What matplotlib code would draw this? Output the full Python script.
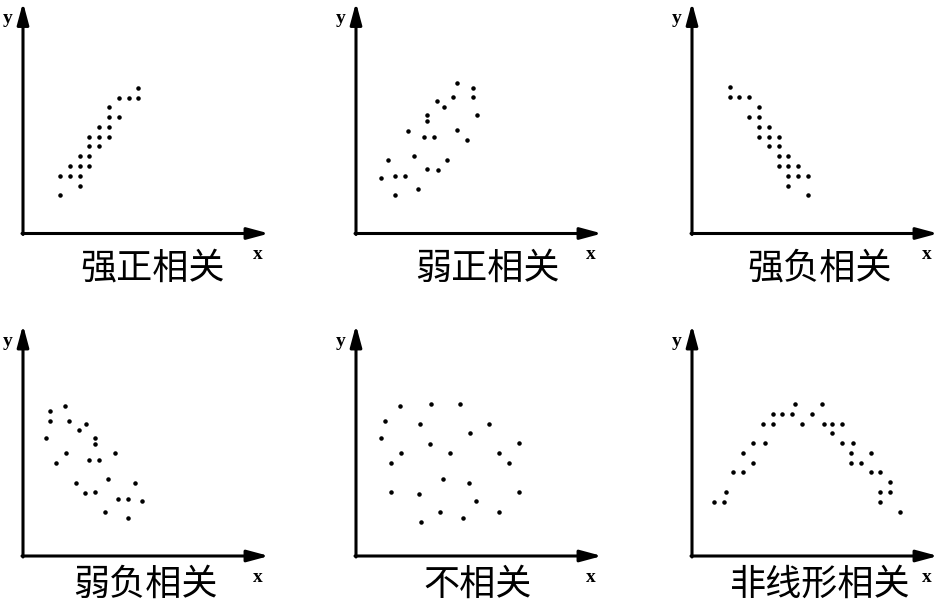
import numpy as np
import matplotlib.pyplot as plt

plt.rcParams['font.family'] = ['Noto Sans CJK SC', 'DejaVu Sans']

# point positions (units ~ pixels from panel origin)
strong_pos_x = [115, 96, 106, 115, 86, 86, 96, 76, 86, 66, 76, 86, 66, 76, 57, 66, 47, 57, 66, 37, 47, 57, 57, 37]
strong_pos_y = [146, 136, 136, 136, 127, 117, 117, 107, 107, 97, 97, 97, 88, 88, 78, 78, 68, 68, 68, 58, 58, 58, 48, 39]

weak_pos_x = [101, 117, 97, 117, 81, 88, 71, 71, 121, 52, 101, 68, 78, 111, 32, 58, 91, 71, 82, 25, 39, 49, 62, 39]
weak_pos_y = [151, 146, 137, 137, 133, 127, 119, 113, 119, 103, 104, 97, 97, 94, 74, 78, 74, 65, 64, 56, 58, 58, 45, 39]

strong_neg_x = [38, 38, 47, 57, 67, 57, 67, 67, 77, 67, 77, 87, 77, 87, 87, 96, 87, 96, 106, 96, 106, 116, 96, 116]
strong_neg_y = [147, 137, 137, 137, 127, 117, 117, 107, 107, 97, 97, 97, 88, 88, 78, 78, 68, 68, 68, 58, 58, 58, 48, 39]

weak_neg_x = [42, 27, 27, 46, 63, 56, 23, 72, 72, 43, 92, 33, 66, 76, 85, 53, 112, 62, 72, 95, 105, 119, 82, 105]
weak_neg_y = [150, 145, 135, 135, 132, 126, 118, 118, 112, 103, 103, 93, 96, 96, 77, 73, 73, 63, 64, 57, 57, 55, 44, 38]

none_x = [44, 75, 104, 29, 64, 133, 114, 25, 74, 163, 45, 94, 143, 35, 153, 87, 113, 35, 63, 163, 120, 84, 143, 107, 65]
none_y = [150, 152, 152, 135, 132, 132, 123, 118, 112, 113, 103, 103, 103, 93, 93, 77, 73, 64, 62, 64, 55, 44, 44, 38, 34]

nonlin_x = [103, 130, 81, 90, 100, 120, 71, 81, 110, 132, 140, 150, 140, 61, 73, 150, 161,
            51, 159, 179, 61, 159, 169, 41, 51, 179, 188, 198, 34, 188, 198, 22, 32, 188, 208]
nonlin_y = [152, 152, 142, 142, 142, 142, 132, 132, 132, 132, 132, 132, 123, 113, 113, 113, 113,
            103, 103, 103, 93, 93, 93, 84, 84, 84, 84, 74, 64, 64, 64, 54, 54, 54, 44]

labels = ['强正相关', '弱正相关', '强负相关', '弱负相关', '不相关', '非线形相关']
series = [(strong_pos_x, strong_pos_y), (weak_pos_x, weak_pos_y), (strong_neg_x, strong_neg_y),
          (weak_neg_x, weak_neg_y), (none_x, none_y), (nonlin_x, nonlin_y)]

W, H = 938, 602
origins = [(23, 233.5), (356, 233.5), (692, 233.5), (23, 556), (356, 556), (692, 556)]
label_cx = [130, 131, 128, 122, 122, 128]
AW, AH = 246, 231

fig = plt.figure(figsize=(W / 100, H / 100), dpi=100)

for i, ((ox, oy), lab, (xs, ys)) in enumerate(zip(origins, labels, series)):
    ax = fig.add_axes([ox / W, (H - oy) / H, AW / W, AH / H])
    ax.set_xlim(0, AW); ax.set_ylim(0, AH)
    ax.axis('off')
    arr = dict(arrowstyle='-|>,head_length=1.3,head_width=0.35', color='black', lw=2.2,
               shrinkA=0, shrinkB=0)
    ax.annotate('', xy=(AW, 0), xytext=(-1, 0), arrowprops=arr, annotation_clip=False)
    ax.annotate('', xy=(0, AH), xytext=(0, -1), arrowprops=arr, annotation_clip=False)
    ax.scatter(xs, ys, s=5, color='black', clip_on=False)
    ax.text(-15, 215, 'y', family='Liberation Serif', weight='bold', fontsize=14,
            ha='center', va='center')
    ax.text(235, -21, 'x', family='Liberation Serif', weight='bold', fontsize=14,
            ha='center', va='center')
    ty = -35 if i < 3 else -29
    ax.text(label_cx[i], ty, lab, fontsize=26, ha='center', va='center', clip_on=False)

fig.savefig('out.png', dpi=100)
